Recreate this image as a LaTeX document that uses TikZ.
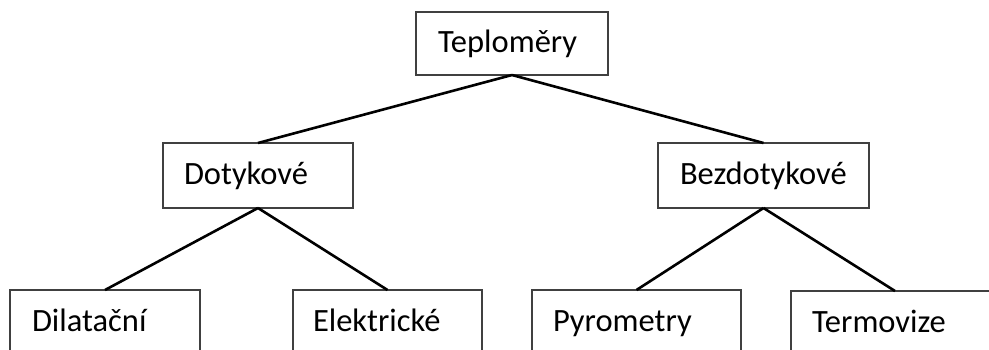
\documentclass[tikz,border=0pt]{standalone}
\usepackage{fontspec}
\setmainfont{Carlito}
\begin{document}
\begin{tikzpicture}[x=1pt,y=-1pt,
  box/.style={draw=black!75, line width=1.2pt, rectangle, outer sep=0pt,
    anchor=north west, align=left, inner ysep=0pt,
    text height=24pt, text depth=6pt,
    font=\fontsize{32.5}{38}\selectfont},
  conn/.style={draw=black, line width=2.6pt}]
\useasboundingbox (0,0) rectangle (989,349);
\clip (0,0) rectangle (989,349);
\node[box, inner xsep=22pt, text width=148pt, minimum height=63pt] (t) at (416,12) {Teploměry};
\node[box, inner xsep=21pt, text width=148pt, minimum height=65pt] (d) at (163,143) {Dotykové};
\node[box, inner xsep=22pt, text width=167pt, minimum height=65pt] (b) at (658,143) {Bezdotykové};
\node[box, inner xsep=22pt, text width=146pt, minimum height=64pt] (dil) at (10,290) {Dilatační};
\node[box, inner xsep=20pt, text width=149pt, minimum height=64pt] (el) at (293,290) {Elektrické};
\node[box, inner xsep=21pt, text width=167pt, minimum height=64pt] (py) at (532,290) {Pyrometry};
\node[box, inner xsep=21pt, text width=166pt, minimum height=64pt] (te) at (791,291) {Termovize};
\draw[conn] (t.south) -- (d.north);
\draw[conn] (t.south) -- (b.north);
\draw[conn] (d.south) -- (dil.north);
\draw[conn] (d.south) -- (el.north);
\draw[conn] (b.south) -- (py.north);
\draw[conn] (b.south) -- (te.north);
\end{tikzpicture}
\end{document}
